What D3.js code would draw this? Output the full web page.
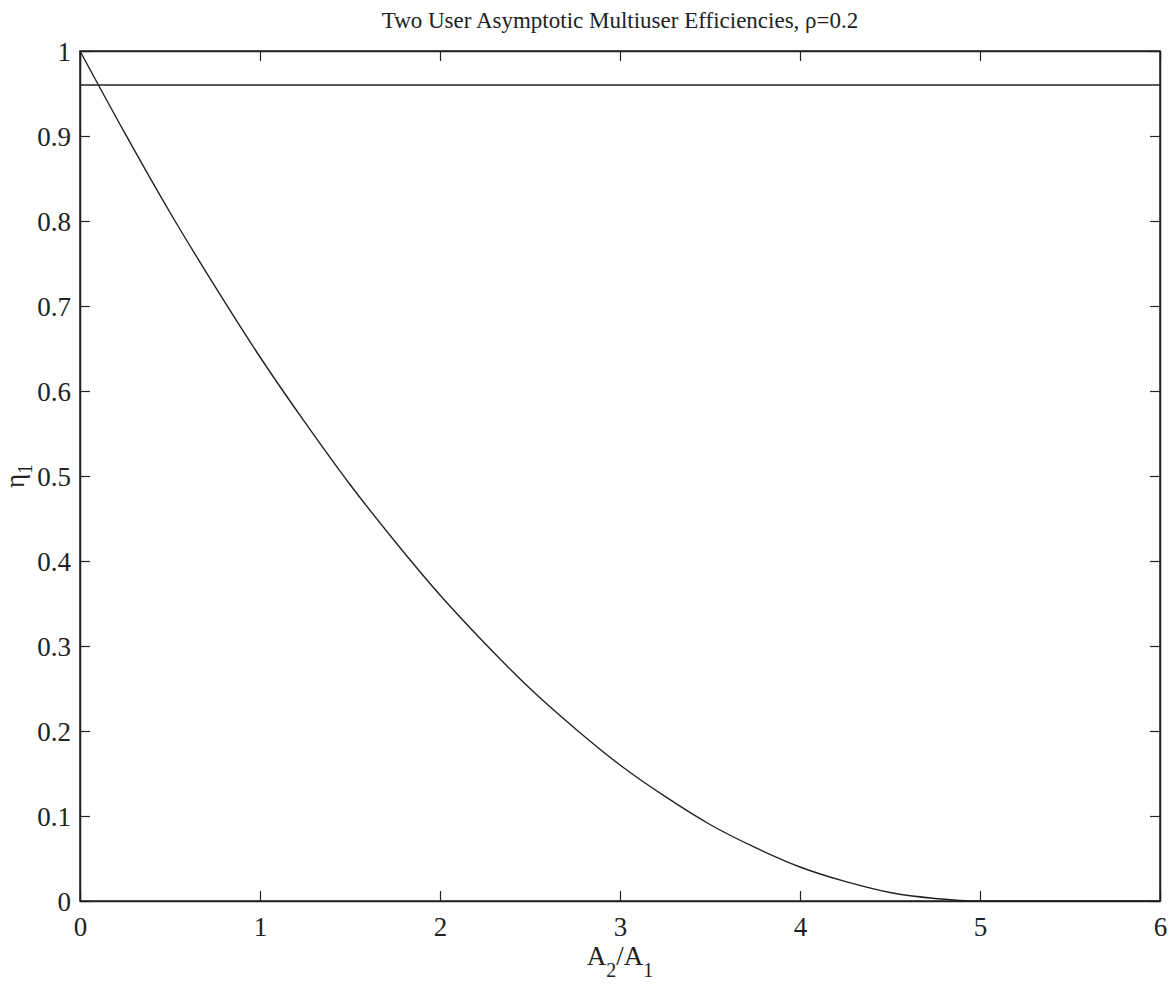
<!DOCTYPE html>
<html>
<head>
<meta charset="utf-8">
<script src="https://cdn.jsdelivr.net/npm/d3@7"></script>
<style>
  body { margin: 0; background: #fff; }
</style>
</head>
<body>
<div id="chart"></div>
<script>
// Values
const xTicks = [0, 1, 2, 3, 4, 5, 6];
const yTicks = [0, 0.1, 0.2, 0.3, 0.4, 0.5, 0.6, 0.7, 0.8, 0.9, 1];

// matched-filter efficiency curve (A2/A1, eta)
const ratio = [0, 0.25, 0.5, 0.75, 1, 1.25, 1.5, 1.75, 2, 2.25, 2.5, 2.75, 3,
               3.25, 3.5, 3.75, 4, 4.25, 4.5, 4.75, 5, 5.5, 6];
const etaMF = [1.0, 0.903, 0.81, 0.723, 0.64, 0.563, 0.49, 0.423, 0.36, 0.303, 0.25, 0.203, 0.16,
               0.123, 0.09, 0.063, 0.04, 0.023, 0.01, 0.003, 0, 0, 0];

// decorrelator efficiency (flat)
const decorX = [0, 6];
const decorY = [0.96, 0.96];

const SERIF = '"Liberation Serif", "Times New Roman", Times, "DejaVu Serif", serif';

const W = 1175, H = 984;
const margin = { top: 51, right: 15, bottom: 83, left: 80 };
const width = W - margin.left - margin.right;
const height = H - margin.top - margin.bottom;

const svg = d3.select('#chart')
    .append('svg')
    .attr('width', W)
    .attr('height', H)
    .attr('font-family', SERIF);

const g = svg.append('g')
    .attr('transform', `translate(${margin.left},${margin.top})`);

const x = d3.scaleLinear().domain([0, 6]).range([0, width]);
const y = d3.scaleLinear().domain([0, 1]).range([height, 0]);

const fmt = d3.format('~g');

// axes with inward ticks on all four sides
g.append('g')
    .attr('transform', `translate(0,${height})`)
    .call(d3.axisBottom(x).tickValues(xTicks).tickFormat(fmt).tickSizeInner(-10).tickSizeOuter(0).tickPadding(16))
    .call(a => a.selectAll('text').style('font-size', '27px'));

g.append('g')
    .call(d3.axisTop(x).tickValues(xTicks).tickFormat('').tickSizeInner(-10).tickSizeOuter(0));

g.append('g')
    .call(d3.axisLeft(y).tickValues(yTicks).tickFormat(fmt).tickSizeInner(-10).tickSizeOuter(0).tickPadding(9))
    .call(a => a.selectAll('text').style('font-size', '27px').attr('dy', '0.36em'));

g.append('g')
    .attr('transform', `translate(${width},0)`)
    .call(d3.axisRight(y).tickValues(yTicks).tickFormat('').tickSizeInner(-10).tickSizeOuter(0));

g.selectAll('g').attr('font-family', SERIF);
g.selectAll('text').style('font-family', SERIF).attr('fill', '#222');
g.selectAll('.domain').attr('stroke', '#222').attr('stroke-width', 1.5);
g.selectAll('.tick line').attr('stroke', '#222').attr('stroke-width', 1.2);

// frame
g.append('rect')
    .attr('width', width)
    .attr('height', height)
    .attr('fill', 'none')
    .attr('stroke', '#222')
    .attr('stroke-width', 1.5);

const line = d3.line()
    .x(d => x(d[0]))
    .y(d => y(d[1]));

g.append('path')
    .datum(decorX.map((v, i) => [v, decorY[i]]))
    .attr('d', line)
    .attr('fill', 'none')
    .attr('stroke', '#222')
    .attr('stroke-width', 1.4);

g.append('path')
    .datum(ratio.map((v, i) => [v, etaMF[i]]))
    .attr('d', line.curve(d3.curveMonotoneX))
    .attr('fill', 'none')
    .attr('stroke', '#222')
    .attr('stroke-width', 1.4);

// title
svg.append('text')
    .attr('x', margin.left + width / 2)
    .attr('y', 28)
    .attr('text-anchor', 'middle')
    .attr('fill', '#222')
    .style('font-family', SERIF)
    .style('font-size', '23px')
    .text('Two User Asymptotic Multiuser Efficiencies, ρ=0.2');

// x label A2/A1
const xl = svg.append('text')
    .attr('x', margin.left + width / 2)
    .attr('y', 965)
    .attr('text-anchor', 'middle')
    .attr('fill', '#222')
    .style('font-family', SERIF)
    .style('font-size', '27px');
xl.append('tspan').text('A');
xl.append('tspan').attr('dy', 12).style('font-size', '20px').text('2');
xl.append('tspan').attr('dy', -12).text('/A');
xl.append('tspan').attr('dy', 12).style('font-size', '20px').text('1');

// y label eta_1
const yl = svg.append('text')
    .attr('transform', `translate(24,${margin.top + height / 2}) rotate(-90)`)
    .attr('text-anchor', 'middle')
    .attr('fill', '#222')
    .style('font-family', SERIF)
    .style('font-size', '27px');
yl.append('tspan').text('η');
yl.append('tspan').attr('dy', 8).style('font-size', '20px').text('1');
</script>
</body>
</html>
